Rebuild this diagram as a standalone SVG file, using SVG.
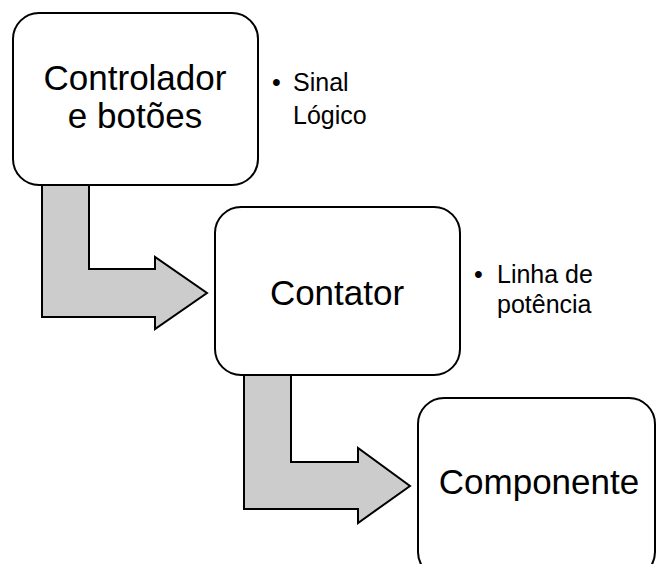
<svg xmlns="http://www.w3.org/2000/svg" width="657" height="564" viewBox="0 0 657 564">
<style>
.box{fill:#fff;stroke:#000;stroke-width:2}
.arr{fill:#cccccc;stroke:#000;stroke-width:2;stroke-linejoin:miter}
.big{font-family:"Liberation Sans",Arial,sans-serif;font-size:35px;fill:#000;text-anchor:middle}
.sm{font-family:"Liberation Sans",Arial,sans-serif;font-size:25px;fill:#000}
</style>
<rect width="657" height="564" fill="#fff"/>
<g id="connectors">
<path class="arr" d="M42,185 L89,185 L89,269 L155,269 L155,257 L207,293 L155,329 L155,317 L42,317 Z"/>
<path class="arr" d="M244,375 L291,375 L291,462 L358,462 L358,448 L410,486 L358,523 L358,509 L244,509 Z"/>
</g>
<g id="node-controlador">
<rect class="box" x="13" y="13" width="245" height="172" rx="26"/>
<text class="big" x="135" y="90">Controlador</text>
<text class="big" x="135" y="128">e botões</text>
</g>
<g id="note-sinal">
<text class="sm" x="272" y="91">•</text>
<text class="sm" x="293" y="91">Sinal</text>
<text class="sm" x="293" y="124">Lógico</text>
</g>
<g id="node-contator">
<rect class="box" x="215" y="207" width="245" height="168" rx="26"/>
<text class="big" x="337" y="305">Contator</text>
</g>
<g id="note-linha">
<text class="sm" x="474" y="283">•</text>
<text class="sm" x="497" y="283">Linha de</text>
<text class="sm" x="497" y="313">potência</text>
</g>
<g id="node-componente">
<rect class="box" x="418" y="398" width="237" height="180" rx="26"/>
<text class="big" x="539" y="494">Componente</text>
</g>
</svg>
